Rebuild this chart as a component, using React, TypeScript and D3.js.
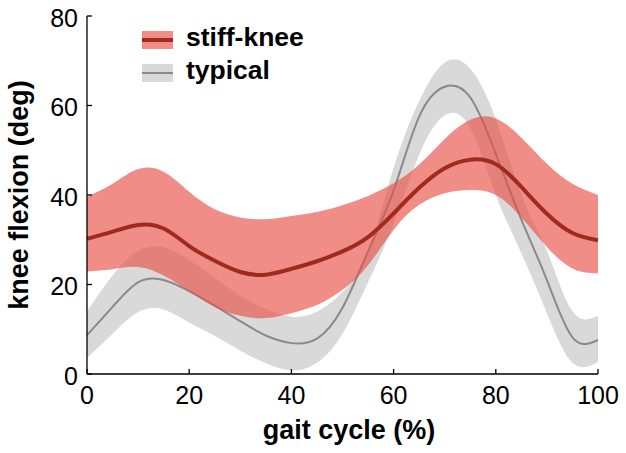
import React, { useEffect, useRef } from 'react'
import * as d3 from 'd3'

// gait cycle samples (%)
const cycle = [0, 5, 10, 15, 20, 25, 30, 35, 40, 45, 50, 55, 60, 65, 70, 75, 80, 85, 90, 95, 100]

// stiff-knee group: mean and band
const stiffMean = [30.2, 31.8, 33.3, 32.5, 28.6, 25.3, 22.8, 22.2, 23.5, 25.2, 27.4, 30.6, 35.9, 41.6, 46.0, 47.9, 46.9, 41.8, 35.8, 31.5, 29.9]
const stiffUpper = [39.6, 42.5, 45.8, 45.2, 40.7, 36.8, 35.0, 34.6, 35.3, 36.2, 37.7, 39.8, 42.6, 46.8, 52.5, 56.8, 57.1, 52.8, 47.0, 42.5, 40.0]
const stiffLower = [22.9, 23.4, 23.9, 22.0, 18.5, 15.0, 13.0, 12.5, 13.6, 15.4, 18.8, 24.3, 32.2, 37.8, 40.4, 41.1, 40.0, 35.0, 28.4, 23.6, 22.5]

// typical group: mean and band
const typMean = [8.7, 15.0, 20.5, 21.0, 18.5, 15.3, 11.8, 8.6, 6.9, 7.9, 14.8, 27.4, 41.0, 57.5, 64.2, 61.8, 49.2, 34.5, 21.0, 8.2, 7.6]
const typUpper = [14.0, 22.0, 27.5, 28.3, 25.5, 21.5, 17.5, 14.5, 12.8, 13.9, 18.3, 27.5, 46.0, 61.0, 69.6, 68.2, 57.0, 40.0, 27.5, 14.0, 13.0]
const typLower = [3.6, 9.0, 13.8, 14.4, 11.5, 8.5, 5.2, 2.4, 0.8, 2.5, 9.0, 20.5, 33.5, 49.0, 57.8, 55.0, 40.0, 27.0, 13.6, 2.5, 2.7]

const xTicks = [0, 20, 40, 60, 80, 100]
const yTicks = [0, 20, 40, 60, 80]
const legendNames = ['stiff-knee', 'typical']

export default function App () {
  const ref = useRef<SVGSVGElement>(null)

  useEffect(() => {
    const svg = d3.select(ref.current)
    svg.selectAll('*').remove()

    const x = d3.scaleLinear().domain([0, 100]).range([87, 598])
    const y = d3.scaleLinear().domain([0, 80]).range([374, 16])
    const curve = d3.curveNatural

    const band = (up: number[], lo: number[]) => d3.area<number>()
      .x(d => x(d)).y0((d, i) => y(lo[i])).y1((d, i) => y(up[i])).curve(curve)(cycle)
    const line = (vals: number[]) => d3.line<number>()
      .x(d => x(d)).y((d, i) => y(vals[i])).curve(curve)(cycle)

    const g = svg.append('g')
    g.append('path').attr('d', band(typUpper, typLower)).attr('fill', '#d9d9d9')
    g.append('path').attr('d', line(typMean)).attr('fill', 'none').attr('stroke', '#8a8a8a').attr('stroke-width', 2)
    g.append('path').attr('d', band(stiffUpper, stiffLower)).attr('fill', 'rgb(232,80,70)').attr('fill-opacity', 0.65)
    g.append('path').attr('d', line(stiffMean)).attr('fill', 'none').attr('stroke', '#a02a1e').attr('stroke-width', 4)

    // axes
    const ax = svg.append('g').attr('font-family', 'Liberation Sans, Arial, sans-serif')
    ax.append('line').attr('x1', x(0)).attr('x2', x(100)).attr('y1', y(0)).attr('y2', y(0)).attr('stroke', '#000').attr('stroke-width', 1.3)
    ax.append('line').attr('x1', x(0)).attr('x2', x(0)).attr('y1', y(0)).attr('y2', y(80)).attr('stroke', '#000').attr('stroke-width', 1.3)
    xTicks.forEach(t => {
      ax.append('line').attr('x1', x(t)).attr('x2', x(t)).attr('y1', y(0)).attr('y2', y(0) - 5).attr('stroke', '#000').attr('stroke-width', 1.3)
      ax.append('text').attr('x', x(t)).attr('y', 404).attr('text-anchor', 'middle').attr('font-size', 25).text(t)
    })
    yTicks.forEach(t => {
      ax.append('line').attr('x1', x(0)).attr('x2', x(0) + 5).attr('y1', y(t)).attr('y2', y(t)).attr('stroke', '#000').attr('stroke-width', 1.3)
      ax.append('text').attr('x', 78).attr('y', y(t) + 10.5).attr('text-anchor', 'end').attr('font-size', 25).text(t)
    })
    ax.append('text').attr('x', 349).attr('y', 439).attr('text-anchor', 'middle')
      .attr('font-size', 27).attr('font-weight', 'bold').text('gait cycle (%)')
    ax.append('text').attr('transform', 'translate(28,195) rotate(-90)').attr('text-anchor', 'middle')
      .attr('font-size', 27).attr('font-weight', 'bold').text('knee flexion (deg)')

    // legend
    const lg = svg.append('g').attr('font-family', 'Liberation Sans, Arial, sans-serif')
    const fills = ['rgb(232,80,70)', '#d9d9d9']
    const opac = [0.65, 1]
    const strokes = ['#a02a1e', '#8a8a8a']
    const widths = [4, 2]
    legendNames.forEach((name, i) => {
      const cy = 40 + i * 33
      lg.append('rect').attr('x', 142).attr('y', cy - 9).attr('width', 31).attr('height', 18)
        .attr('fill', fills[i]).attr('fill-opacity', opac[i])
      lg.append('line').attr('x1', 142).attr('x2', 173).attr('y1', cy).attr('y2', cy)
        .attr('stroke', strokes[i]).attr('stroke-width', widths[i])
      lg.append('text').attr('x', 186).attr('y', cy + 6).attr('font-size', 26.5).attr('font-weight', 'bold').text(name)
    })
  }, [])

  return (
    <svg ref={ref} width={626} height={453} style={{ position: 'absolute', left: 0, top: 0, background: '#fff' }} />
  )
}
